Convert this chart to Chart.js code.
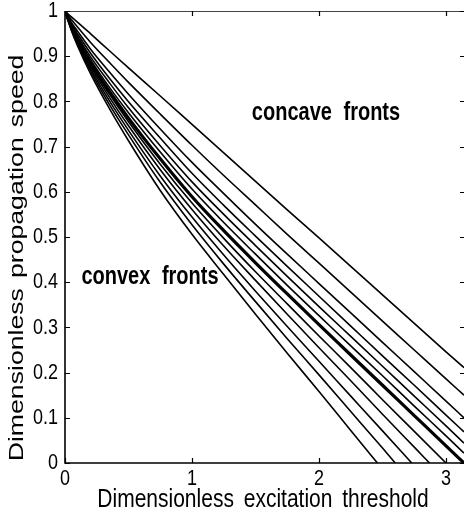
<!DOCTYPE html>
<html lang="en">
<head>
<meta charset="UTF-8" />
<title>Propagation speed vs excitation threshold</title>
<script src="https://cdn.jsdelivr.net/npm/chart.js"></script>
<style>
  html, body { margin: 0; padding: 0; background: #fff; }
  #wrap { width: 464px; height: 519px; }
</style>
</head>
<body>
<div id="wrap"><canvas id="speedChart" width="464" height="519"></canvas></div>
<script>
// sample points along the threshold axis
const threshold = [0, 0.05, 0.1, 0.2, 0.35, 0.5, 0.75, 1, 1.25, 1.5, 1.75, 2, 2.25, 2.5, 2.75, 3, 3.1416];

// concave fronts, top (straight) to bottom
const concave0 = [1, 0.987, 0.975, 0.95, 0.912, 0.874, 0.812, 0.749, 0.686, 0.623, 0.560, 0.498, 0.435, 0.372, 0.309, 0.246, 0.211];
const concave1 = [1, 0.981, 0.964, 0.931, 0.886, 0.842, 0.772, 0.703, 0.636, 0.571, 0.506, 0.442, 0.378, 0.314, 0.250, 0.186, 0.150];
const concave2 = [1, 0.975, 0.955, 0.916, 0.865, 0.816, 0.739, 0.665, 0.596, 0.528, 0.462, 0.397, 0.332, 0.267, 0.202, 0.137, 0.100];
const concave3 = [1, 0.972, 0.949, 0.907, 0.851, 0.799, 0.719, 0.641, 0.570, 0.502, 0.435, 0.369, 0.303, 0.237, 0.172, 0.106, 0.069];
const concave4 = [1, 0.970, 0.944, 0.899, 0.841, 0.786, 0.702, 0.622, 0.550, 0.481, 0.413, 0.346, 0.280, 0.214, 0.148, 0.082, 0.044];
const concave5 = [1, 0.967, 0.940, 0.893, 0.831, 0.775, 0.688, 0.606, 0.532, 0.462, 0.393, 0.326, 0.259, 0.193, 0.126, 0.060, 0.022];

// planar front (heavy line)
const planar = [1, 0.965, 0.936, 0.886, 0.822, 0.763, 0.673, 0.589, 0.514, 0.443, 0.374, 0.306, 0.239, 0.172, 0.105, 0.038, 0];

// convex fronts, each stops where the speed hits zero
const convex1 = [1, 0.964, 0.934, 0.882, 0.816, 0.755, 0.661, 0.575, 0.497, 0.423, 0.352, 0.281, 0.211, 0.140, 0.070];
const convex2 = [1, 0.962, 0.931, 0.878, 0.809, 0.746, 0.649, 0.561, 0.480, 0.404, 0.329, 0.255, 0.182, 0.108, 0.035];
const convex3 = [1, 0.961, 0.929, 0.873, 0.801, 0.736, 0.635, 0.544, 0.460, 0.380, 0.302, 0.225, 0.148, 0.071];
const convex4 = [1, 0.959, 0.926, 0.868, 0.793, 0.726, 0.621, 0.527, 0.440, 0.357, 0.275, 0.195, 0.114, 0.033];
const convex5 = [1, 0.957, 0.922, 0.862, 0.784, 0.713, 0.603, 0.506, 0.417, 0.329, 0.243, 0.158, 0.072];
const convexEnds = [3.0, 2.87, 2.73, 2.60, 2.46];

const xTicks = [0, 1, 2, 3];
const yTicks = [0, 0.1, 0.2, 0.3, 0.4, 0.5, 0.6, 0.7, 0.8, 0.9, 1];

function toPoints(vals, end) {
  const pts = [];
  vals.forEach((v, i) => {
    if (threshold[i] <= (end ?? Infinity)) pts.push({ x: threshold[i], y: v });
  });
  if (end !== undefined && pts[pts.length - 1].x < end) pts.push({ x: end, y: 0 });
  return pts;
}

function curve(pts, width) {
  return {
    data: pts,
    showLine: true,
    borderColor: '#000',
    borderWidth: width,
    pointRadius: 0,
    cubicInterpolationMode: 'monotone',
    fill: false
  };
}

const datasets = [
  curve(toPoints(concave0), 1.6),
  curve(toPoints(concave1), 1.6),
  curve(toPoints(concave2), 1.6),
  curve(toPoints(concave3), 1.6),
  curve(toPoints(concave4), 1.6),
  curve(toPoints(concave5), 1.6),
  curve(toPoints(convex1, convexEnds[0]), 1.6),
  curve(toPoints(convex2, convexEnds[1]), 1.6),
  curve(toPoints(convex3, convexEnds[2]), 1.6),
  curve(toPoints(convex4, convexEnds[3]), 1.6),
  curve(toPoints(convex5, convexEnds[4]), 1.6),
  curve(toPoints(planar), 3.2)
];

// text comes out taller than wide, like the old printout
function stretchText(ctx, text, x, y, font, opts = {}) {
  ctx.save();
  ctx.translate(x, y);
  ctx.scale(1, opts.stretch || 1.25);
  if (opts.rot) ctx.rotate(opts.rot);
  if ('wordSpacing' in ctx) ctx.wordSpacing = (opts.gap || 0) + 'px';
  ctx.font = font;
  ctx.textAlign = opts.align || 'center';
  ctx.textBaseline = 'middle';
  ctx.fillStyle = '#000';
  ctx.fillText(text, 0, 0);
  ctx.restore();
}

const framePlugin = {
  id: 'frame',
  afterDraw(chart) {
    const { ctx, chartArea: a, scales: { x, y } } = chart;
    ctx.save();
    ctx.strokeStyle = '#000';
    ctx.lineWidth = 1.6;
    ctx.beginPath();
    ctx.moveTo(a.left, a.top);
    ctx.lineTo(a.left, a.bottom);
    ctx.lineTo(a.right + 1, a.bottom);
    ctx.stroke();
    ctx.strokeStyle = '#444';
    ctx.lineWidth = 1;
    ctx.beginPath();
    ctx.moveTo(a.left, a.top + 0.5);
    ctx.lineTo(a.right + 1, a.top + 0.5);
    ctx.stroke();

    ctx.strokeStyle = '#000';
    ctx.lineWidth = 1.2;
    ctx.beginPath();
    xTicks.forEach(v => {
      const px = Math.round(x.getPixelForValue(v)) + 0.5;
      ctx.moveTo(px, a.bottom); ctx.lineTo(px, a.bottom - 5);
      ctx.moveTo(px, a.top); ctx.lineTo(px, a.top + 5);
    });
    yTicks.forEach(v => {
      const py = Math.round(y.getPixelForValue(v)) + 0.5;
      ctx.moveTo(a.left, py); ctx.lineTo(a.left + 5, py);
      ctx.moveTo(a.right + 1, py); ctx.lineTo(a.right - 4, py);
    });
    ctx.stroke();
    ctx.restore();

    const tickFont = '18px "Liberation Sans", Arial, sans-serif';
    xTicks.forEach(v => stretchText(ctx, String(v), x.getPixelForValue(v), a.bottom + 16, tickFont));
    yTicks.forEach(v => stretchText(ctx, String(v), a.left - 7, y.getPixelForValue(v), tickFont, { align: 'right' }));

    stretchText(ctx, 'Dimensionless excitation threshold', 263, 500,
      '21px "Liberation Sans", Arial, sans-serif', { gap: 4 });
    stretchText(ctx, 'Dimensionless propagation speed', 17, 258,
      '20.5px "Liberation Sans", Arial, sans-serif', { gap: 2, stretch: 1.3, rot: -Math.PI / 2 });

    const noteFont = 'bold 20px "Liberation Sans", Arial, sans-serif';
    stretchText(ctx, 'concave fronts', 326, 113, noteFont, { gap: 6 });
    stretchText(ctx, 'convex fronts', 150, 277, noteFont, { gap: 6 });
  }
};

new Chart(document.getElementById('speedChart'), {
  type: 'scatter',
  data: { datasets },
  options: {
    responsive: false,
    animation: false,
    devicePixelRatio: 1,
    layout: { padding: { left: 65, top: 11, right: 0, bottom: 56 } },
    plugins: { legend: { display: false }, tooltip: { enabled: false } },
    scales: {
      x: { type: 'linear', min: 0, max: Math.PI, display: false },
      y: { type: 'linear', min: 0, max: 1, display: false }
    }
  },
  plugins: [framePlugin]
});
</script>
</body>
</html>
